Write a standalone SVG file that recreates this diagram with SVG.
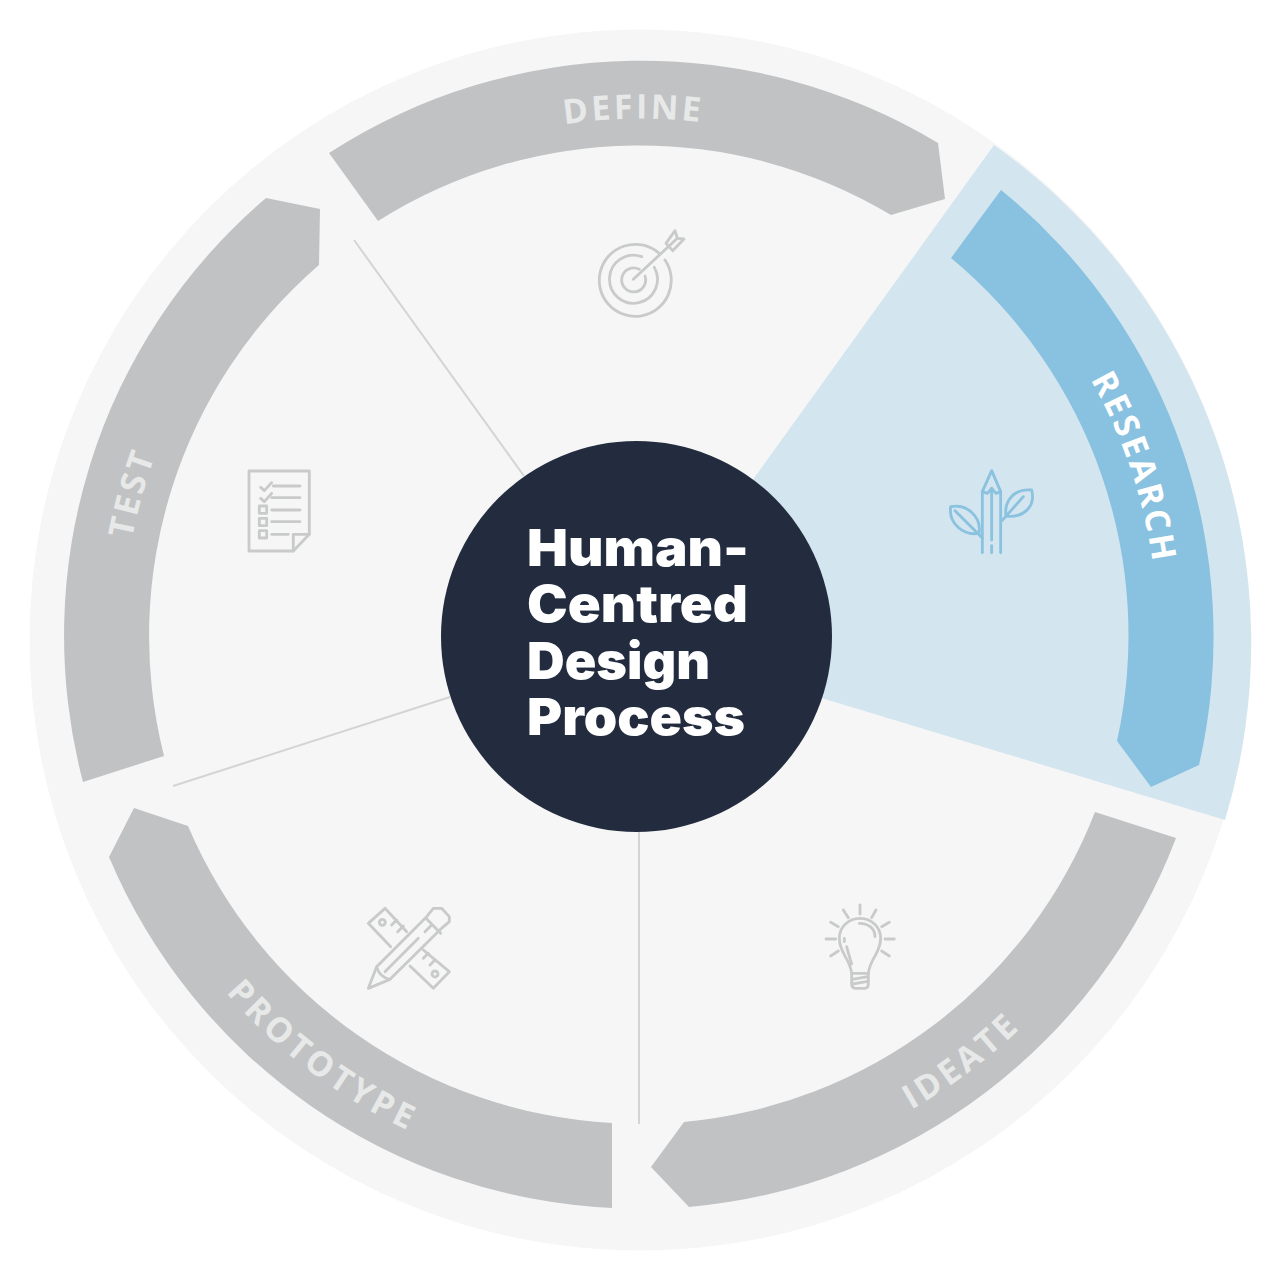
<svg xmlns="http://www.w3.org/2000/svg" width="1282" height="1276" viewBox="0 0 1282 1276">
<style>
.band{fill:#c1c2c3}
.lbl{font-family:"Open Sans","Liberation Sans",sans-serif;font-weight:700;font-size:34px;letter-spacing:3px;fill:#e7e8e8;text-anchor:middle}
.ttl{font-family:Inter,"Liberation Sans",sans-serif;font-weight:900;font-size:51px;fill:#fff}
.ico{fill:none;stroke:#c9caca;stroke-width:8.5;stroke-linecap:round;stroke-linejoin:round}
.blue{stroke:#8ac2e0}
.cn{stroke:#d3d4d4;stroke-width:2;fill:none}
</style>
<defs>
<path id="pd" d="M376 191.8A517 517 0 0 1 893 184.1"/>
<path id="pr" d="M981.9 245.9A518 518 0 0 1 1147.9 736.5"/>
<path id="pi" d="M706.7 1177.9A547 547 0 0 0 1143.5 848.7"/>
<path id="pp" d="M98.3 711.1A547 547 0 0 0 716.1 1176.7"/>
<path id="pt" d="M139.2 763.6A517 517 0 0 1 278.3 265.6"/>
</defs>
<rect width="1282" height="1276" fill="#fff"/>
<circle id="ring" cx="640" cy="640" r="610.5" fill="#f6f6f6"/>
<path id="wedge" d="M636 642L994 145A610.5 610.5 0 0 1 1225 820Z" fill="#d3e5ef"/>
<g id="connectors" class="cn">
<path d="M354 240L524 476"/>
<path d="M173 786L450 697"/>
<path d="M639 832V1124"/>
</g>
<g id="define">
<path class="band" d="M329 153A575 575 0 0 1 938 143L945 199L891 215A490 490 0 0 0 378 221Z"/>
<text class="lbl"><textPath href="#pd" startOffset="50%">DEFINE</textPath></text>
<g class="ico" transform="translate(560 210) scale(.3333)">
<path d="M315 150A108 108 0 1 1 295 128"/>
<path d="M283 172A72 72 0 1 1 245 140"/>
<path d="M255 198A36 36 0 1 1 238 178"/>
<path d="M220 208L352 85"/>
<path d="M318 100L345 62L352 85L372 87L338 122Z"/>
</g>
</g>
<g id="research">
<path d="M1001 190A575 575 0 0 1 1199 765L1151 787L1117 741A490 490 0 0 0 951 258Z" fill="#89c1e0"/>
<text class="lbl" style="fill:#fff"><textPath href="#pr" startOffset="50%">RESEARCH</textPath></text>
<g class="ico blue" transform="translate(930 450) scale(.3333)">
<path d="M157 308V125L185 62L212 125V308"/>
<path d="M157 125L172 130L185 115L198 130L212 125"/>
<path d="M185 115V270M185 287V308"/>
<path d="M62 170C110 160 155 200 147 250C100 258 55 220 62 170Z"/>
<path d="M75 182L157 264"/>
<path d="M305 120C250 115 222 155 228 198C280 205 318 170 305 120Z"/>
<path d="M280 140L216 212"/>
</g>
</g>
<g id="ideate">
<path class="band" d="M1095 812L1176 838A575 575 0 0 1 689 1207L651 1167L684 1122A490 490 0 0 0 1095 812Z"/>
<text class="lbl" style="letter-spacing:3.5px"><textPath href="#pi" startOffset="50%">IDEATE</textPath></text>
<g class="ico" transform="translate(800 890) scale(.3333)">
<path d="M155 250C150 205 118 190 118 145C118 110 146 85 180 85C214 85 242 110 242 145C242 190 210 205 205 250Z"/>
<path d="M155 250V282Q155 295 168 295H192Q205 295 205 282V250"/>
<path d="M157 268L203 260M157 282L203 274"/>
<path d="M178 100C205 100 225 115 225 140M133 145V155M140 170C145 190 150 205 155 222"/>
<path d="M180 45V72M130 60L145 83M228 60L215 83M92 97L115 110M268 97L245 110M78 147H107M255 147H283M92 198L115 183M268 198L245 183"/>
</g>
</g>
<g id="prototype">
<path class="band" d="M612 1123L612 1208A575 575 0 0 1 109 857L134 808L188 826A490 490 0 0 0 612 1123Z"/>
<text class="lbl" style="letter-spacing:3.8px"><textPath href="#pp" startOffset="50%">PROTOTYPE</textPath></text>
<g class="ico" transform="translate(350 890) scale(.3333)">
<path d="M80 230L55 295L120 268L278 112L298 95V80L275 55H250L230 80Z"/>
<path d="M80 232Q90 262 120 268M105 245L205 145M225 125L245 105M228 85L272 130"/>
<path d="M122 170L55 100L105 55L170 125"/>
<circle cx="97" cy="97" r="9"/>
<path d="M125 105L140 90M143 125L160 108"/>
<path d="M220 180L298 245L250 295L180 228"/>
<circle cx="255" cy="252" r="9"/>
<path d="M220 205L235 190M240 225L255 210"/>
</g>
</g>
<g id="test">
<path class="band" d="M83 782A575 575 0 0 1 266 198L320 209L319 265A490 490 0 0 0 164 756Z"/>
<text class="lbl"><textPath href="#pt" startOffset="50%">TEST</textPath></text>
<g class="ico" transform="translate(230 455) scale(.3333)">
<path d="M57 48H238V238L190 288H57Z"/>
<path d="M190 288V238H238"/>
<path d="M92 97L103 107L125 83M92 130L103 140L125 115"/>
<path d="M130 93H210M125 128H210M125 165H210M125 200H210M125 238H175"/>
<rect x="88" y="153" width="22" height="22"/>
<rect x="88" y="190" width="22" height="22"/>
<rect x="88" y="227" width="22" height="22"/>
</g>
</g>
<g id="center">
<circle cx="636.5" cy="636.5" r="195.5" fill="#232c3e"/>
<text class="ttl" x="527" y="566" textLength="222" lengthAdjust="spacingAndGlyphs">Human-</text>
<text class="ttl" x="527" y="622" textLength="221" lengthAdjust="spacingAndGlyphs">Centred</text>
<text class="ttl" x="527" y="679" textLength="183" lengthAdjust="spacingAndGlyphs">Design</text>
<text class="ttl" x="527" y="735" textLength="218" lengthAdjust="spacingAndGlyphs">Process</text>
</g>
</svg>
